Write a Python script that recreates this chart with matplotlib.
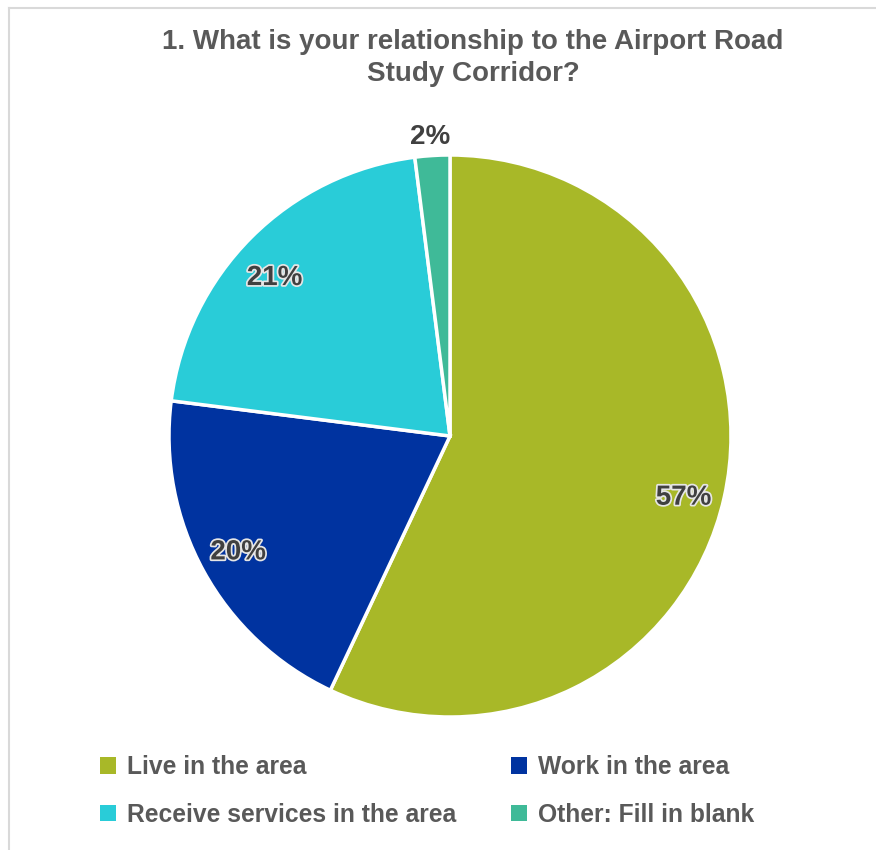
import matplotlib.pyplot as plt
import matplotlib.patheffects as pe
from matplotlib.lines import Line2D
from matplotlib.patches import Patch
import numpy as np

plt.rcParams["font.family"] = ["Liberation Sans", "DejaVu Sans"]

categories = ["Live in the area", "Work in the area",
              "Receive services in the area", "Other: Fill in blank"]
shares = [57, 20, 21, 2]
colors = ["#A8B828", "#0033A0", "#29CCD8", "#3FBA98"]
title = "1. What is your relationship to the Airport Road\nStudy Corridor?"

fig = plt.figure(figsize=(8.76, 8.5), dpi=100)

# thin grey frame around the chart area
fig.add_artist(Line2D([9 / 876, 9 / 876], [0, 1 - 8 / 850], color="#D9D9D9", lw=1.5))
fig.add_artist(Line2D([9 / 876, 1], [1 - 8 / 850, 1 - 8 / 850], color="#D9D9D9", lw=1.5))

ax = fig.add_axes([169 / 876, 133 / 850, 562 / 876, 562 / 850])
wedges, _ = ax.pie(shares, colors=colors, startangle=90, counterclock=False,
                   radius=1.0, wedgeprops=dict(edgecolor="white", linewidth=2.5))
ax.set_xlim(-1, 1)
ax.set_ylim(-1, 1)
ax.set_aspect("equal")

# label placement: radial distance and small angular nudge per slice
label_dist = [0.86, 0.86, 0.84, 1.065]
label_nudge = [-2.2, 0.0, 3.0, 0.3]

glow = [pe.withStroke(linewidth=2.5, foreground="#E6E6E6")]
total = sum(shares)
start = 90.0
for val, dist, nudge in zip(shares, label_dist, label_nudge):
    span = 360.0 * val / total
    mid = np.deg2rad(start - span / 2 + nudge)
    start -= span
    effects = glow if val > 5 else None
    ax.text(dist * np.cos(mid), dist * np.sin(mid), f"{val}%", ha="center", va="center",
            fontsize=20, fontweight="bold", color="#404040",
            path_effects=effects, clip_on=False)

fig.text(473 / 876, 1 - 58 / 850, title, ha="center", va="center", fontsize=20,
         fontweight="bold", color="#595959", linespacing=1.3)

handles = [Patch(facecolor=c, edgecolor="none") for c in colors]
order = [0, 2, 1, 3]
fig.legend([handles[i] for i in order], [categories[i] for i in order],
           ncol=2, loc="center left", bbox_to_anchor=(88 / 876, 1 - 791 / 850),
           frameon=False, borderpad=0, handlelength=0.65, handleheight=0.65,
           handletextpad=0.45, columnspacing=2.2, labelspacing=0.97,
           prop=dict(size=17.7, weight="bold"), labelcolor="#595959")

fig.savefig("out.png", dpi=100, facecolor="white")
